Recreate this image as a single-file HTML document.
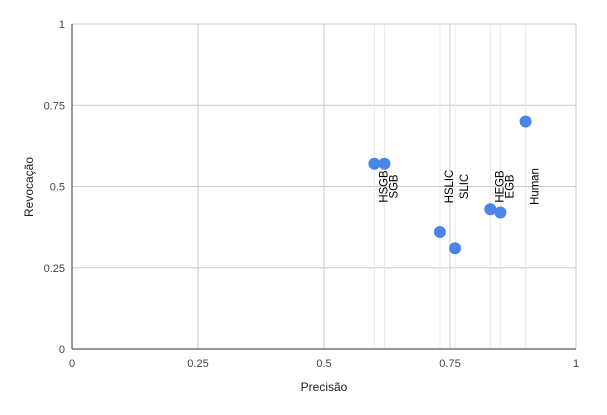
<!DOCTYPE html>
<html><head><meta charset="utf-8"><style>
body{margin:0;background:#fff;}
svg{font-family:"Liberation Sans",Arial,sans-serif;}
</style></head><body>
<svg id="chart" width="607" height="410">
<g id="grid"></g><g id="stems"></g><g id="axes"></g><g id="pts"></g><g id="labels"></g>
<text x="324" y="391" text-anchor="middle" font-size="12" fill="#222">Precisão</text>
<text transform="translate(33,187) rotate(-90)" text-anchor="middle" font-size="12" fill="#222">Revocação</text>
</svg>
<script>
const names=["HSGB","SGB","HSLIC","SLIC","HEGB","EGB","Human"];
const precision=[0.6,0.62,0.73,0.76,0.83,0.85,0.9];
const recall=[0.57,0.57,0.36,0.31,0.43,0.42,0.7];
const ticks=[0,0.25,0.5,0.75,1];
const tickLabels=["0","0.25","0.5","0.75","1"];
const NS="http://www.w3.org/2000/svg";
const X=v=>72+v*504, Y=v=>349-v*325;
function mk(t,a,p){const e=document.createElementNS(NS,t);for(const k in a)e.setAttribute(k,a[k]);document.getElementById(p).appendChild(e);return e;}
ticks.forEach((t,i)=>{
 const gx=mk('line',{x1:X(t),x2:X(t),y1:24,y2:349,stroke:'#ccc'},'grid');
 
 
 const gy=mk('line',{x1:72,x2:576,y1:Y(t),y2:Y(t),stroke:'#ccc'},'grid');
 
 
 const tx=mk('text',{x:X(t),y:367,'text-anchor':'middle','font-size':11,fill:'#444'},'axes');tx.textContent=tickLabels[i];
 
 
 const ty=mk('text',{x:65,y:Y(t)+4,'text-anchor':'end','font-size':11,fill:'#444'},'axes');ty.textContent=tickLabels[i];
 
 
});
const ax=mk('line',{x1:72,x2:72,y1:24,y2:349,stroke:'#333'},'axes');


const bx=mk('line',{x1:72,x2:576,y1:349,y2:349,stroke:'#333'},'axes');


names.forEach((n,i)=>{
 const s=mk('line',{x1:X(precision[i]),x2:X(precision[i]),y1:24,y2:349,stroke:'#ebebeb'},'stems');
 
 
 const c=mk('circle',{cx:X(precision[i]),cy:Y(recall[i]),r:6,fill:'#4a86e8'},'pts');
 
 
 const l=mk('text',{transform:`translate(${X(precision[i])+13},${Y(0.5)}) rotate(-90) scale(0.95,1)`,'text-anchor':'middle','font-size':12,fill:'#000'},'labels');
 l.textContent=n;
 
 
});
</script>
</body></html>
